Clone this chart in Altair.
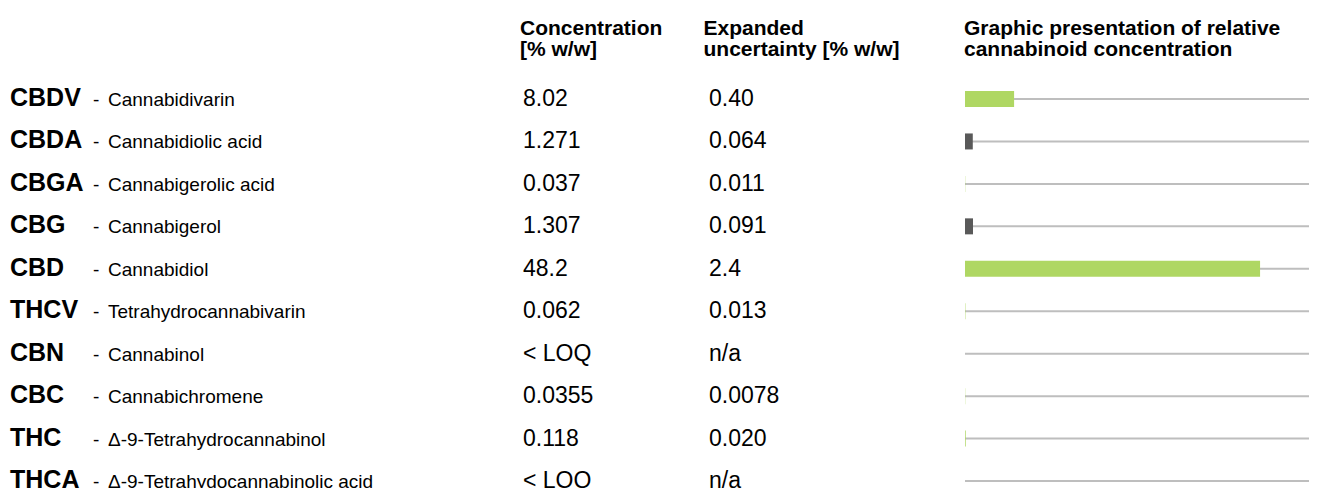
import altair as alt
import pandas as pd

abbr = ["CBDV", "CBDA", "CBGA", "CBG", "CBD", "THCV", "CBN", "CBC", "THC", "THCA"]
names = ["Cannabidivarin", "Cannabidiolic acid", "Cannabigerolic acid", "Cannabigerol",
         "Cannabidiol", "Tetrahydrocannabivarin", "Cannabinol", "Cannabichromene",
         "Δ-9-Tetrahydrocannabinol", "Δ-9-Tetrahydocannabinolic acid"]
conc_labels = ["8.02", "1.271", "0.037", "1.307", "48.2", "0.062", "< LOQ", "0.0355", "0.118", "< LOQ"]
unc_labels = ["0.40", "0.064", "0.011", "0.091", "2.4", "0.013", "n/a", "0.0078", "0.020", "n/a"]
conc_values = [8.02, 1.271, 0.037, 1.307, 48.2, 0.062, 0.0, 0.0355, 0.118, 0.0]
bar_colors = ["#afd763", "#595959", "#afd763", "#595959", "#afd763",
              "#afd763", "#afd763", "#afd763", "#afd763", "#afd763"]
headers = ["Concentration\n[% w/w]", "Expanded\nuncertainty [% w/w]",
           "Graphic presentation of relative\ncannabinoid concentration"]
header_x = [512, 695.5, 956]

X_MAX = 57.5
FONT = "Liberation Sans"

df = pd.DataFrame({
    "abbr": abbr, "name": names, "conc_label": conc_labels,
    "unc_label": unc_labels, "conc": conc_values, "color": bar_colors,
    "dash": ["-"] * len(abbr),
})
hdr = pd.DataFrame({"text": headers, "px": header_x})

yenc = alt.Y("abbr:N", sort=abbr,
             scale=alt.Scale(type="point", domain=abbr, range=[91, 473.05], padding=0),
             axis=None)
xscale = alt.Scale(domain=[0, X_MAX], range=[957, 1309], zero=True, nice=False)

base = alt.Chart(df)

track = base.mark_rule(color="#bebebe", strokeWidth=2).encode(
    x=alt.X(datum=0, type="quantitative", scale=xscale, axis=None),
    x2=alt.X2(datum=X_MAX),
    y=yenc,
)
bars = base.mark_bar(size=16, orient="horizontal").encode(
    x=alt.X("conc:Q", scale=xscale, axis=None),
    y=yenc,
    color=alt.Color("color:N", scale=None),
)

def col_text(field, px, size, weight="normal"):
    return base.mark_text(align="left", baseline="alphabetic", dy=7, font=FONT,
                          fontSize=size, fontWeight=weight, color="#000000").encode(
        x=alt.value(px), y=yenc, text=f"{field}:N")

t_abbr = col_text("abbr", 2, 25, "bold")
t_dash = col_text("dash", 85, 19)
t_name = col_text("name", 100, 19)
t_conc = col_text("conc_label", 515, 23)
t_unc = col_text("unc_label", 701, 23)

t_hdr = alt.Chart(hdr).mark_text(align="left", baseline="alphabetic", font=FONT,
                                 fontSize=21, fontWeight="bold", lineBreak="\n",
                                 lineHeight=21, color="#000000").encode(
    x=alt.X("px:Q", scale=None), y=alt.value(27), text="text:N")

chart = alt.layer(track, bars, t_abbr, t_dash, t_name, t_conc, t_unc, t_hdr).properties(
    width=1301, height=484, padding=0, autosize="none"
).configure_view(strokeWidth=0)

chart.save("out.html", embed_options={"renderer": "svg", "actions": False})
